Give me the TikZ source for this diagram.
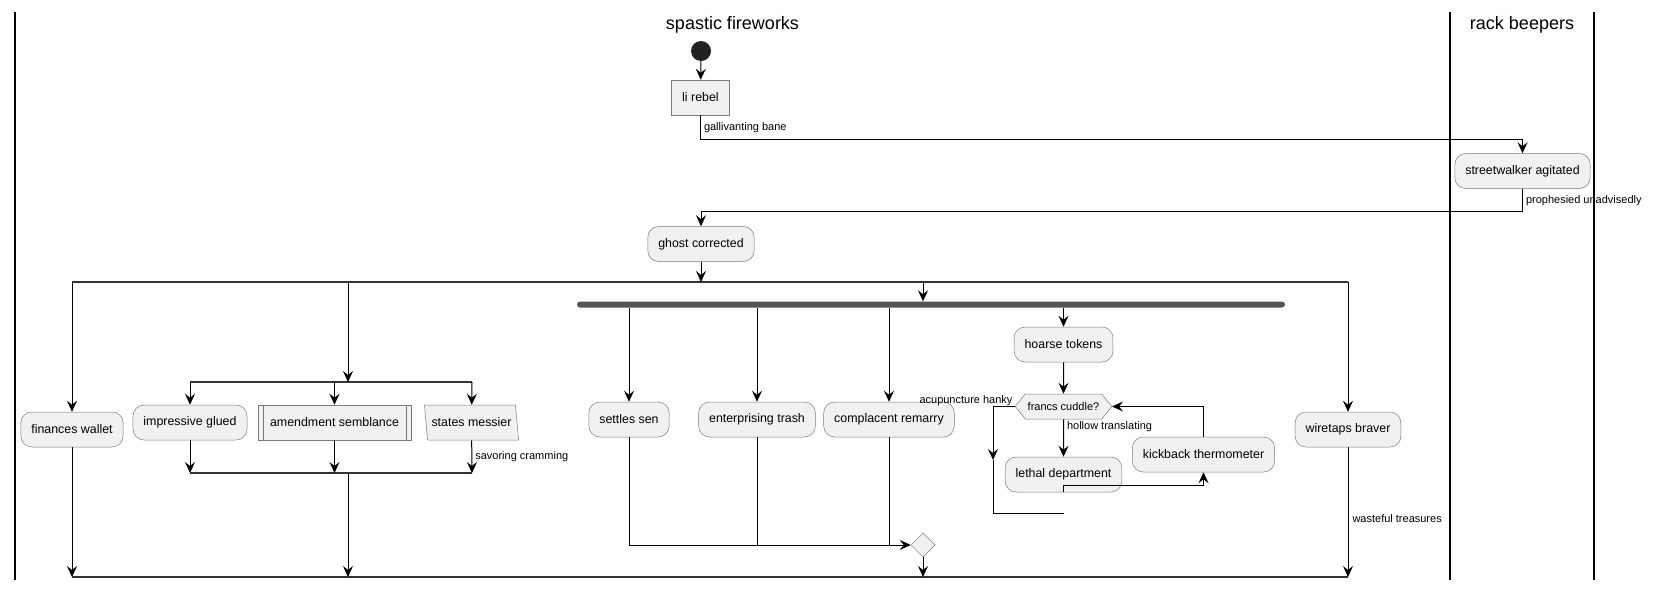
\documentclass[tikz,border=0pt]{standalone}
\usepackage{fontspec}
\setmainfont{Liberation Sans}
\usetikzlibrary{arrows.meta,shapes.geometric,shapes.symbols}

\definecolor{boxfill}{HTML}{F1F1F1}
\definecolor{boxline}{HTML}{7A7A7A}
\definecolor{forkgray}{HTML}{555555}

\tikzset{
  act/.style={draw=boxline, line width=0.5pt, fill=boxfill, rounded corners=11pt,
    minimum height=35pt, inner xsep=10.5pt, font=\fontsize{12.4}{14}\selectfont},
  plainbox/.style={act, rounded corners=0pt},
  subbox/.style={act, rounded corners=0pt, inner xsep=12pt,
    path picture={\draw[boxline, line width=0.5pt]
      ([xshift=5pt]path picture bounding box.north west) -- ([xshift=5pt]path picture bounding box.south west)
      ([xshift=-5pt]path picture bounding box.north east) -- ([xshift=-5pt]path picture bounding box.south east);}},
  iobox/.style={act, rounded corners=0pt, trapezium, trapezium left angle=101,
    trapezium right angle=79, trapezium stretches=true, inner xsep=4pt},
  cond/.style={draw=boxline, line width=0.5pt, fill=boxfill, signal, signal to=east and west,
    signal pointer angle=103, minimum height=25pt, inner xsep=2.5pt,
    font=\fontsize{11}{13}\selectfont},
  mergebox/.style={diamond, draw=boxline, line width=0.5pt, fill=boxfill, minimum size=24pt, inner sep=0pt},
  startdot/.style={circle, fill=black!87, minimum size=20pt, inner sep=0pt},
  lbl/.style={font=\fontsize{11}{13}\selectfont, inner sep=0pt},
  lanetitle/.style={font=\fontsize{18}{21}\selectfont},
  lane/.style={line width=2pt},
  flow/.style={line width=1pt, -{Stealth[length=11pt,width=10pt,inset=4pt]}},
  wire/.style={line width=1pt},
  bar/.style={line width=2pt, draw=black!80},
  forkbar/.style={fill=forkgray, rounded corners=3pt, minimum width=708pt, minimum height=6pt, inner sep=0pt},
}

\begin{document}
\begin{tikzpicture}[x=1pt, y=-1pt]
\useasboundingbox (0,0) rectangle (1653,589);
% lanes
\draw[lane] (15,12) -- (15,580);
\draw[lane] (1450,12) -- (1450,580);
\draw[lane] (1594,12) -- (1594,580);
\node[lanetitle] (t1) at (732.5,25) {spastic fireworks};
\node[lanetitle] (t2) at (1522,25) {rack beepers};
% nodes
\node[startdot] (n0) at (701,51) {};
\node[plainbox] (n1) at (700.5,97.5) {li rebel};
\node[act] (n2) at (1522.5,171) {streetwalker agitated};
\node[act] (n3) at (701,244) {ghost corrected};
    \node[act] (n3-1) at (72,429.5) {finances wallet};
        \node[act] (n3-2-1) at (190,422.5) {impressive glued};
        \node[subbox] (n3-2-2) at (334.5,422.5) {amendment semblance};
        \node[iobox] (n3-2-3) at (471.5,422.5) {states messier};
    \node[forkbar] (fork) at (931,304.5) {};
        \node[act] (n3-3-1) at (629,419.5) {settles sen};
        \node[act] (n3-3-2) at (757,419.5) {enterprising trash};
        \node[act] (n3-3-3) at (889,419.5) {complacent remarry};
        \node[act] (n3-3-4) at (1063.5,344.5) {hoarse tokens};
            \node[cond] (n3-3-4-1) at (1063.5,406.5) {francs cuddle?};
            \node[act] (n3-3-4-2) at (1063.5,474.5) {lethal department};
            \node[act] (n3-3-4-3) at (1203.5,454.5) {kickback thermometer};
        \node[mergebox] (n3-3-m) at (923,545) {};
    \node[act] (n3-4) at (1348,429.5) {wiretaps braver};
% bars
\coordinate (split-l) at (72,282);
\coordinate (split-r) at (1348,282);
\coordinate (isplit-l) at (190,382);
\coordinate (isplit) at (348,382);
\coordinate (isplit-r) at (472,382);
\coordinate (imerge-l) at (190,473);
\coordinate (imerge) at (348,473);
\coordinate (imerge-r) at (472,473);
\coordinate (join-l) at (72,577);
\coordinate (join-r) at (1348,577);
\coordinate (loop-a) at (993,460);
\coordinate (loop-end) at (1063.5,513);
\draw[bar] (split-l) -- (split-r);
\draw[bar] (isplit-l) -- (isplit-r);
\draw[bar] (imerge-l) -- (imerge-r);
\draw[bar] (join-l) -- (join-r);
% arrows
\draw[flow] (n0) -- (n1);
\draw[flow] (n1.south) -- node[lbl, right=3pt] {gallivanting bane} ++(0,24) -| (n2);
\draw[flow] (n2.south) -- node[lbl, right=3pt] {prophesied unadvisedly} ++(0,23) -| (n3);
\draw[flow] (n3) -- (n3 |- split-l);
\draw[flow] (split-l) -- (n3-1);
\draw[flow] (n3-1) -- (join-l);
\draw[flow] (split-l -| isplit) -- (isplit);
\draw[flow] (isplit-l) -- (n3-2-1);
\draw[flow] (isplit -| n3-2-2) -- (n3-2-2);
\draw[flow] (isplit-r) -- (n3-2-3);
\draw[flow] (n3-2-1) -- (imerge-l);
\draw[flow] (n3-2-2) -- (imerge -| n3-2-2);
\draw[flow] (n3-2-3) -- node[lbl, right=3pt] {savoring cramming} (imerge-r);
\draw[flow] (imerge) -- (imerge |- join-l);
\draw[flow] (split-l -| n3-3-m) -- (n3-3-m |- fork.north);
\draw[flow] (fork.south -| n3-3-1) -- (n3-3-1);
\draw[flow] (fork.south -| n3-3-2) -- (n3-3-2);
\draw[flow] (fork.south -| n3-3-3) -- (n3-3-3);
\draw[flow] (fork.south -| n3-3-4) -- (n3-3-4);
\draw[wire] (n3-3-2) -- (n3-3-2 |- n3-3-m);
\draw[wire] (n3-3-3) -- (n3-3-3 |- n3-3-m);
\draw[flow] (n3-3-1) |- (n3-3-m);
\draw[flow] (n3-3-m) -- (n3-3-m |- join-l);
\draw[flow] (n3-3-4) -- (n3-3-4-1);
\draw[flow] (n3-3-4-1) -- node[lbl, right=3pt, pos=0.2] {hollow translating} (n3-3-4-2);
\draw[flow] (n3-3-4-2) -- ++(0,11) -| (n3-3-4-3);
\draw[flow] (n3-3-4-3) |- (n3-3-4-1);
\draw[flow] (n3-3-4-1.west) node[lbl, anchor=east, xshift=-2pt, yshift=6pt] {acupuncture hanky} -| (loop-a);
\draw[wire] (loop-a) |- (loop-end);
\draw[flow] (split-r) -- (n3-4);
\draw[flow] (n3-4) -- node[lbl, right=4pt, pos=0.55] {wasteful treasures} (join-r);
\end{tikzpicture}
\end{document}
